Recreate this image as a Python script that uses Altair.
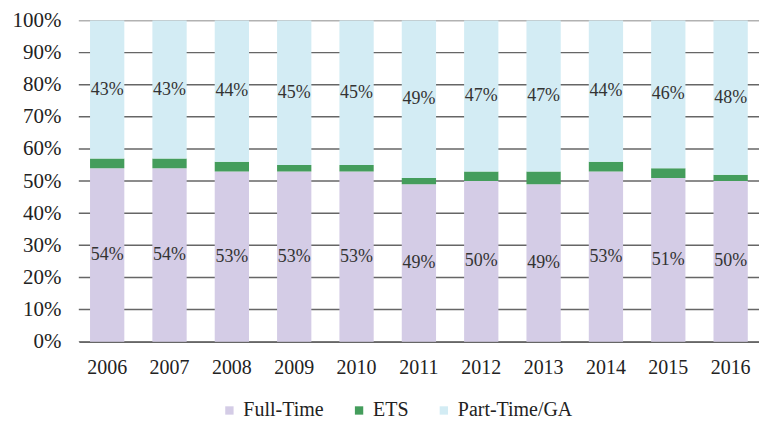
import altair as alt
import pandas as pd

years = ["2006", "2007", "2008", "2009", "2010", "2011", "2012", "2013", "2014", "2015", "2016"]
full_time = [54, 54, 53, 53, 53, 49, 50, 49, 53, 51, 50]
ets = [3, 3, 3, 2, 2, 2, 3, 4, 3, 3, 2]
part_time = [43, 43, 44, 45, 45, 49, 47, 47, 44, 46, 48]
y_ticks = [0.0, 0.1, 0.2, 0.3, 0.4, 0.5, 0.6, 0.7, 0.8, 0.9, 1.0]

series = ["Full-Time", "ETS", "Part-Time/GA"]
colors = ["#d4cce6", "#449d5c", "#d3ecf4"]

rows = []
for i, y in enumerate(years):
    for k, (name, vals) in enumerate(zip(series, [full_time, ets, part_time])):
        rows.append({"year": y, "series": name, "value": vals[i], "order": k,
                     "label": "" if name == "ETS" else f"{vals[i]}%"})
df = pd.DataFrame(rows)

FONT = "Liberation Serif"
W, H = 682, 322

x = alt.X("year:N", title=None, sort=years,
          scale=alt.Scale(paddingInner=0.45, paddingOuter=0.18),
          axis=alt.Axis(labelAngle=0, labelFontSize=20, labelFont=FONT, labelColor="#222",
                        labelPadding=16, ticks=False, domainColor="#666", domainWidth=1.5,
                        grid=False))

y_axis = alt.Axis(format="%", values=y_ticks, labelFontSize=21,
                  labelFont=FONT, labelColor="#222", labelPadding=18, ticks=False,
                  labelOverlap=False, domain=False, grid=False)
y_scale = alt.Scale(domain=[0, 1])

grid = alt.Chart(alt.InlineData(values=[{"t": v} for v in y_ticks])).transform_calculate(
    t1="max(datum.t - 0.0023, 0)",
    t2="min(datum.t + 0.0023, 1)",
).mark_rect(color="#666666").encode(
    y=alt.Y("t1:Q", title=None, scale=y_scale, axis=y_axis),
    y2="t2:Q",
    x=alt.value(0),
    x2=alt.value(W),
)

stacked = alt.Chart(df).transform_stack(
    stack="value", groupby=["year"], as_=["v0", "v1"], sort=[alt.SortField("order")],
    offset="normalize"
)

bars = stacked.mark_bar().encode(
    x=x,
    y=alt.Y("v0:Q", title=None, scale=y_scale, axis=y_axis),
    y2="v1:Q",
    color=alt.Color("series:N", sort=series,
                    scale=alt.Scale(domain=series, range=colors),
                    legend=alt.Legend(title=None, orient="none", direction="horizontal",
                                      legendX=141, legendY=381, padding=0,
                                      symbolType="square", symbolSize=70, symbolStrokeWidth=0,
                                      labelOffset=4, labelFont=FONT, labelFontSize=20,
                                      labelColor="#222", columnPadding=25)),
)

text = stacked.transform_filter(alt.datum.label != "").transform_calculate(
    mid="(datum.v0 + datum.v1) / 2"
).mark_text(fontSize=18, font=FONT, color="#333").encode(
    x=x, y=alt.Y("mid:Q", title=None, scale=y_scale, axis=y_axis), text="label:N")

chart = alt.layer(grid, bars, text).properties(
    width=W, height=H, padding={"left": 4, "top": 1, "right": 0, "bottom": 0}
).configure_view(stroke=None)

chart.save("out.html", embed_options={"renderer": "svg", "actions": False})
